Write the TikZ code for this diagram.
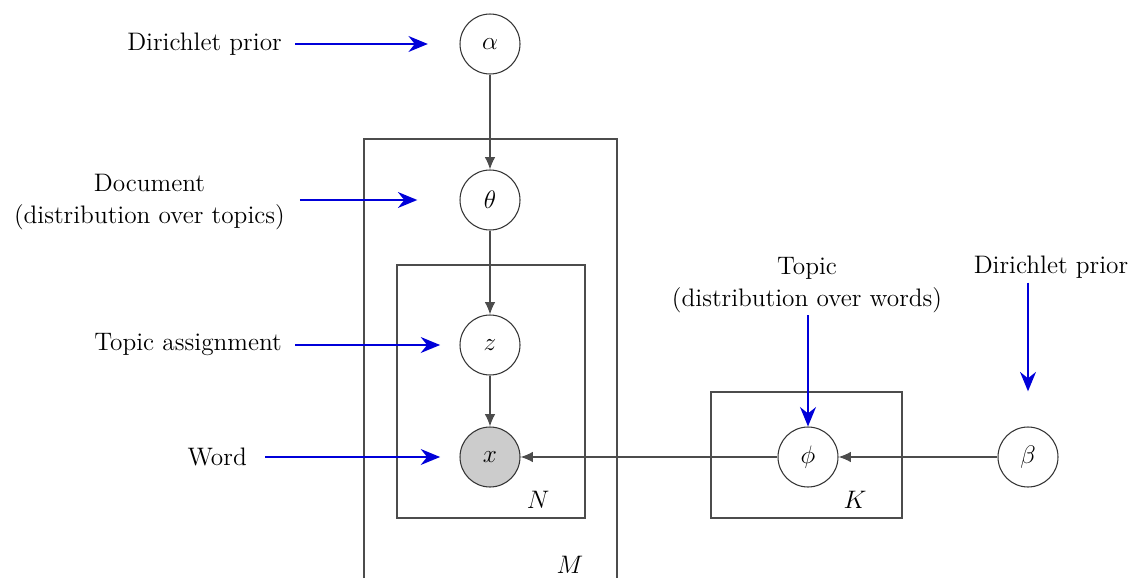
\documentclass[tikz,border=0pt]{standalone}
\usetikzlibrary{arrows.meta}

\begin{document}
\begin{tikzpicture}[x=0.02cm, y=-0.02cm,
    var/.style={circle, draw=black!80, line width=0.6pt, minimum size=1.2cm, inner sep=0pt, fill=white, font=\Large},
    obs/.style={var, fill=black!20},
    plate/.style={draw=black!70, line width=0.8pt},
    edge/.style={draw=black!70, line width=0.8pt, -{Latex[length=7pt,width=6pt]}},
    note/.style={font=\Large, align=center},
    hint/.style={draw=blue!85!black, line width=1.5pt, -{Stealth[length=11pt,width=9pt]}}]
    \useasboundingbox (0,0) rectangle (1139,578);

    % Plates
    \draw[plate] (364,578) -- (364,139) -- (617,139) -- (617,578);
    \draw[plate] (397,265) rectangle (585,518);
    \draw[plate] (711,392) rectangle (902,518);
    \node[font=\Large] (mlab) at (570,565) {$M$};
    \node[font=\Large] (nlab) at (538,500) {$N$};
    \node[font=\Large] (klab) at (855,500) {$K$};

    % Variables
    \node[var] (alpha) at (490,44) {$\alpha$};
    \node[var] (theta) at (490,200) {$\theta$};
    \node[var] (z) at (490,345) {$z$};
    \node[obs] (x) at (490,457) {$x$};
    \node[var] (phi) at (808,457) {$\phi$};
    \node[var] (beta) at (1028,457) {$\beta$};

    % Dependencies
    \draw[edge] (alpha) -- (theta);
    \draw[edge] (theta) -- (z);
    \draw[edge] (z) -- (x);
    \draw[edge] (phi) -- (x);
    \draw[edge] (beta) -- (phi);

    % Notes
    \node[note, anchor=east] (dpa) at (288,44) {Dirichlet prior};
    \node[note, anchor=east] (doc) at (291,202) {Document\\(distribution over topics)};
    \node[note, anchor=east] (tas) at (288,345) {Topic assignment};
    \node[note, anchor=east] (wrd) at (253,457) {Word};
    \node[note] (top) at (807,285) {Topic\\(distribution over words)};
    \node[note] (dpb) at (1051,267) {Dirichlet prior};

    \draw[hint, shorten <=4pt, shorten >=18pt] (dpa) -- (alpha);
    \draw[hint, shorten <=5pt, shorten >=24pt] (doc.east |- theta) -- (theta);
    \draw[hint, shorten <=4pt, shorten >=11pt] (tas) -- (z);
    \draw[hint, shorten <=7pt, shorten >=11pt] (wrd) -- (x);
    \draw[hint, shorten <=-2pt] (top.south -| phi) -- (phi);
    \draw[hint, shorten <=-1pt, shorten >=20pt] (dpb.south -| beta) -- (beta);
\end{tikzpicture}
\end{document}
